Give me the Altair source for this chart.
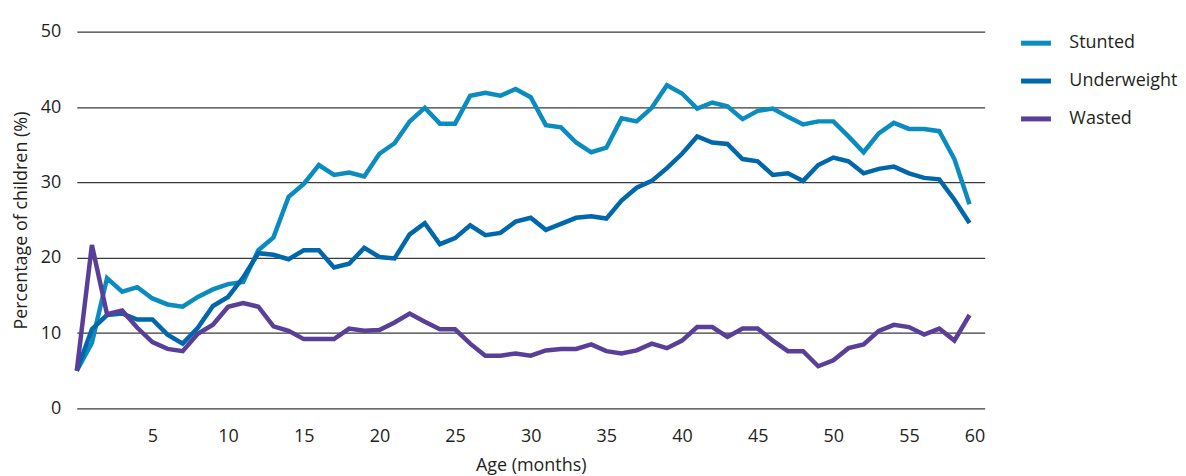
import altair as alt
import pandas as pd

months = list(range(0, 60))

stunted = [5.0, 8.7, 17.3, 15.5, 16.1, 14.6, 13.8, 13.5, 14.8, 15.8,
           16.5, 16.8, 21.0, 22.7, 28.1, 29.8, 32.3, 31.0, 31.3, 30.8,
           33.8, 35.2, 38.1, 39.9, 37.8, 37.8, 41.5, 41.9, 41.5, 42.4,
           41.3, 37.6, 37.3, 35.3, 34.0, 34.6, 38.5, 38.1, 39.9, 42.9,
           41.8, 39.8, 40.6, 40.1, 38.4, 39.5, 39.8, 38.7, 37.7, 38.1,
           38.1, 36.1, 34.0, 36.5, 37.9, 37.1, 37.1, 36.8, 33.1, 27.1]

underweight = [5.0, 10.5, 12.4, 12.6, 11.8, 11.8, 9.8, 8.6, 10.7, 13.6,
               14.8, 17.4, 20.6, 20.4, 19.8, 21.0, 21.0, 18.7, 19.2, 21.3,
               20.1, 19.9, 23.1, 24.6, 21.8, 22.6, 24.3, 23.0, 23.3, 24.8,
               25.3, 23.7, 24.5, 25.3, 25.5, 25.2, 27.6, 29.3, 30.2, 31.9,
               33.8, 36.1, 35.3, 35.1, 33.1, 32.8, 31.0, 31.2, 30.2, 32.3,
               33.3, 32.8, 31.2, 31.8, 32.1, 31.2, 30.6, 30.4, 27.7, 24.6]

wasted = [5.0, 21.7, 12.5, 13.0, 10.7, 8.8, 7.9, 7.6, 9.9, 11.1,
          13.5, 14.0, 13.5, 10.9, 10.3, 9.2, 9.2, 9.2, 10.6, 10.3,
          10.4, 11.4, 12.6, 11.5, 10.5, 10.5, 8.6, 7.0, 7.0, 7.3,
          7.0, 7.7, 7.9, 7.9, 8.5, 7.6, 7.3, 7.7, 8.6, 8.0,
          9.0, 10.8, 10.8, 9.5, 10.6, 10.6, 9.0, 7.6, 7.6, 5.6,
          6.4, 8.0, 8.5, 10.3, 11.1, 10.8, 9.8, 10.6, 9.0, 12.4]

series_names = ["Stunted", "Underweight", "Wasted"]
series_colors = ["#0b8cbf", "#0068aa", "#5a3f99"]
x_ticks = [5, 10, 15, 20, 25, 30, 35, 40, 45, 50, 55, 60]
y_ticks = [0, 10, 20, 30, 40, 50]

rows = []
for name, vals in zip(series_names, [stunted, underweight, wasted]):
    for i, (m, v) in enumerate(zip(months, vals)):
        rows.append({"Age": m, "Value": v, "Series": name, "order": i})
df = pd.DataFrame(rows)

FONT = "Open Sans"
TXT = "#231f20"

chart = alt.Chart(df).mark_line(strokeWidth=4.5, strokeJoin="miter", strokeCap="butt").encode(
    x=alt.X("Age:Q", scale=alt.Scale(domain=[0, 60], nice=False, zero=True),
            axis=alt.Axis(values=x_ticks, title="Age (months)", grid=False, domain=False,
                          ticks=False, labelPadding=19, titlePadding=11,
                          labelFontSize=18, titleFontSize=18, labelFont=FONT, titleFont=FONT,
                          labelColor=TXT, titleColor=TXT, titleFontWeight="normal")),
    y=alt.Y("Value:Q", scale=alt.Scale(domain=[0, 50], nice=False),
            axis=alt.Axis(values=y_ticks, title="Percentage of children (%)", grid=True,
                          gridColor="#3a3a3a", gridWidth=1.2, domain=False, ticks=False,
                          labelPadding=16, titlePadding=10,
                          labelFontSize=18, titleFontSize=18, labelFont=FONT, titleFont=FONT,
                          labelColor=TXT, titleColor=TXT, titleFontWeight="normal")),
    color=alt.Color("Series:N", scale=alt.Scale(domain=series_names, range=series_colors),
                    legend=alt.Legend(title=None, orient="none", legendX=945, legendY=-6,
                                      symbolType="stroke", symbolSize=900, symbolStrokeWidth=5,
                                      labelFontSize=18, labelFont=FONT, labelColor=TXT,
                                      labelOffset=16, rowPadding=10, symbolOffset=0)),
    order="order:Q",
).properties(
    width=911, height=378,
    background="white",
    padding={"top": 14, "left": 4, "right": 0, "bottom": 0},
).configure_view(stroke=None)

chart.save("out.html", embed_options={"renderer": "svg", "actions": False})
